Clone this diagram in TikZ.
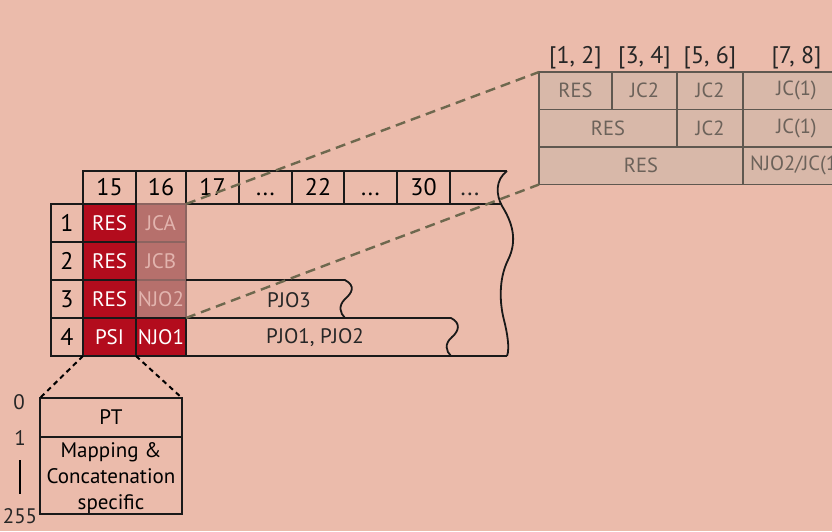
\documentclass[tikz,border=0pt]{standalone}
\usepackage{fontspec}
\setmainfont{PT Sans}
\usetikzlibrary{positioning,calc}

\definecolor{bgsalmon}{RGB}{235,187,171}
\definecolor{cellred}{RGB}{179,12,29}
\definecolor{cellmauve}{RGB}{182,112,108}
\definecolor{mauvetext}{RGB}{226,180,174}
\definecolor{mauveline}{RGB}{140,100,96}
\definecolor{zoomfill}{RGB}{216,184,169}
\definecolor{zoomline}{RGB}{95,88,80}
\definecolor{zoomtext}{RGB}{108,98,90}
\definecolor{guide}{RGB}{110,104,78}

\begin{document}
\begin{tikzpicture}[
  x=1pt, y=-1pt,
  rule/.style={draw=black!90, line width=1.8pt},
  cell/.style={rule, anchor=north west, inner sep=0pt, outer sep=0pt,
    minimum height=38pt, font=\fontsize{21}{24}\selectfont},
  hcell/.style={cell, minimum height=33pt, text height=16.5pt, text depth=0pt,
    font=\fontsize{24}{26}\selectfont},
  numcell/.style={cell, minimum width=32pt, font=\fontsize{24}{26}\selectfont},
  redcell/.style={cell, fill=cellred, text=white, minimum width=53pt},
  mauvecell/.style={cell, draw=mauveline, fill=cellmauve, text=mauvetext, minimum width=50pt},
  zcell/.style={cell, draw=zoomline, fill=zoomfill, text=zoomtext, minimum height=37.5pt,
    font=\fontsize{20.5}{24}\selectfont},
  zlabel/.style={inner sep=1pt, text=black!85, font=\fontsize{24}{26}\selectfont},
  tick/.style={inner sep=0pt, text=black!85, font=\fontsize{21}{24}\selectfont},
  guideline/.style={draw=guide, line width=2.4pt, dash pattern=on 10pt off 6pt},
  cutline/.style={draw=black, line width=2pt, dash pattern=on 5pt off 4pt}
]
  \useasboundingbox (0,0) rectangle (832,531);
  \fill[bgsalmon] (0,0) rectangle (832,531);

  % Header
  \node[hcell, minimum width=53pt] (h15) at (83,171) {15};
  \node[hcell, minimum width=50pt] (h16) at (136,171) {16};
  \node[hcell, minimum width=53pt] (h17) at (186,171) {17};
  \node[hcell, minimum width=53pt] (hdotsa) at (239,171) {...};
  \node[hcell, minimum width=52pt] (h22) at (292,171) {22};
  \node[hcell, minimum width=53pt] (hdotsb) at (344,171) {...};
  \node[hcell, minimum width=53pt] (h30) at (397,171) {30};
  \node[tick, text height=16.5pt, text depth=0pt, font=\fontsize{24}{26}\selectfont]
    (hdotsc) at (470,187.5) {...};
  \draw[rule] (h30.north east) -- (507,171);
  \draw[rule] (h30.south east) -- (502,204);

  % Rows
  \node[numcell] (n1) at (51,204) {1};
  \node[numcell] (n2) at (51,242) {2};
  \node[numcell] (n3) at (51,280) {3};
  \node[numcell] (n4) at (51,318) {4};
  \node[mauvecell] (jca) at (136,204) {JCA};
  \node[mauvecell] (jcb) at (136,242) {JCB};
  \node[mauvecell] (njo2) at (136,280) {NJO2};
  \node[redcell] (res1) at (83,204) {RES};
  \node[redcell] (res2) at (83,242) {RES};
  \node[redcell] (res3) at (83,280) {RES};
  \node[redcell] (psi) at (83,318) {PSI};
  \node[redcell, minimum width=50pt] (njo1) at (136,318) {NJO1};

  % Open-ended payload areas
  \draw[rule] (njo2.north east) -- (345,280) .. controls (356,286) and (352,293) .. (345,299)
    .. controls (338,306) and (340,313) .. (345,318);
  \draw[rule] (njo1.north east) -- (451,318) .. controls (461,323) and (459,331) .. (452,337)
    .. controls (444,344) and (446,351) .. (451,356);
  \draw[rule] (njo1.south east) -- (507,356);
  \draw[rule] (507,171) .. controls (495,180) and (496,195) .. (502,206)
    .. controls (512,222) and (518,240) .. (508,260)
    .. controls (498,280) and (500,305) .. (504,320)
    .. controls (507,332) and (510,348) .. (507,356);
  \node[tick] (pjo3) at (289,300) {PJO3};
  \node[tick] (pjo12) at (315,338) {PJO1, PJO2};

  % Zoom on column 16
  \node[zcell, minimum width=73pt] (za1) at (539,72) {RES};
  \node[zcell, minimum width=65pt] (za2) at (612,72) {JC2};
  \node[zcell, minimum width=66pt] (za3) at (677,72) {JC2};
  \node[zcell, minimum width=107pt] (za4) at (743,72) {JC(1)};
  \node[zcell, minimum width=138pt] (zb1) at (539,109.5) {RES};
  \node[zcell, minimum width=66pt] (zb3) at (677,109.5) {JC2};
  \node[zcell, minimum width=107pt] (zb4) at (743,109.5) {JC(1)};
  \node[zcell, minimum width=204pt] (zc1) at (539,147) {RES};
  \node[zcell, minimum width=107pt] (zc4) at (743,147) {NJO2/JC(1)};
  \node[zlabel, above=2pt of za1] (b12) {[1, 2]};
  \node[zlabel, above=2pt of za2] (b34) {[3, 4]};
  \node[zlabel, above=2pt of za3] (b56) {[5, 6]};
  \node[zlabel, above=2pt of za4] (b78) {[7, 8]};
  \draw[guideline] (jca.north east) -- (za1.north west);
  \draw[guideline] (njo2.south east) -- (zc1.south west);

  % Zoom on PSI
  \node[cell, minimum width=142pt, minimum height=39pt] (pt) at (40,398) {PT};
  \node[cell, minimum width=142pt, minimum height=77pt, align=center,
    font=\fontsize{21}{26}\selectfont, below=0pt of pt, yshift=-3pt, draw=none] (spec)
    {Mapping \&\\Concatenation\\specific};
  \draw[rule] (pt.south west) rectangle (pt.south east |- 0,514);
  \draw[cutline] (psi.south west) -- (pt.north west);
  \draw[cutline] (psi.south east) -- (pt.north east);
  \node[tick] (b0) at (19,402) {0};
  \node[tick] (b1) at (20,438) {1};
  \node[tick] (b255) at (20,516) {255};
  \draw[line width=2.2pt] ($(b1)+(0,22)$) -- ($(b255)+(0,-22)$);
\end{tikzpicture}
\end{document}
